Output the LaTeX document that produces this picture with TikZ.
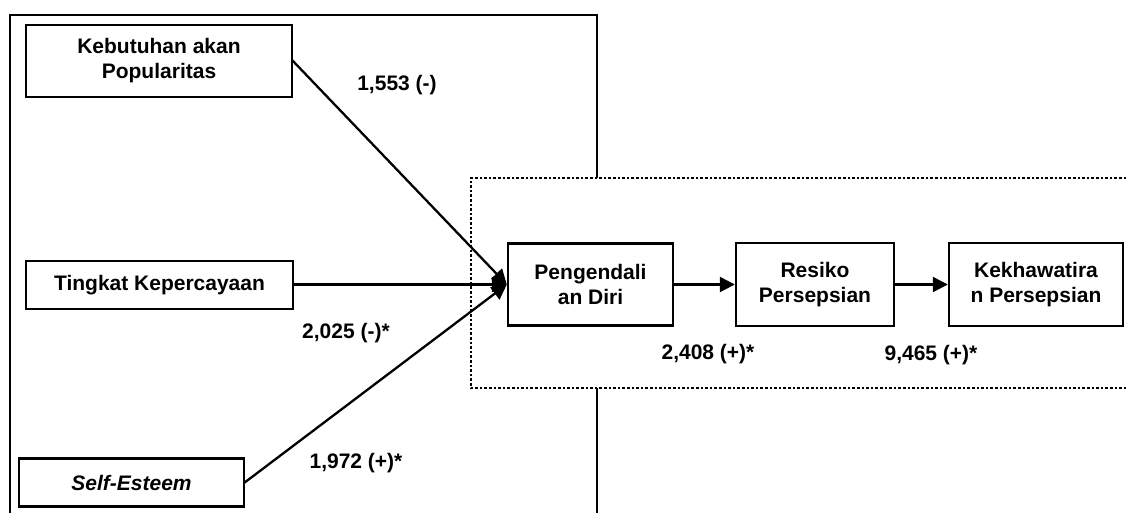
\documentclass[tikz,border=0pt]{standalone}
\usepackage{fontspec}
\setmainfont{Liberation Sans}
\usetikzlibrary{arrows.meta}
\begin{document}
\begin{tikzpicture}[x=1pt,y=-1pt,
  box/.style={draw,line width=2.4pt,align=center,inner sep=0pt,font=\fontsize{21}{25}\selectfont\bfseries},
  lbl/.style={font=\fontsize{21}{24}\selectfont\bfseries,inner sep=0pt},
  conn/.style={line width=2.3pt,-{Triangle[length=15pt,width=15pt]}}]
\useasboundingbox (0,0) rectangle (1128,513);
\begin{scope}
\clip (0,0) rectangle (1128,513);
\draw[line width=2.4pt] (10,540) -- (10,15) -- (597,15) -- (597,540);
\draw[line width=2.6pt,dash pattern=on 2.6pt off 2pt,fill=white] (1140,178) -- (471,178) -- (471,388) -- (1140,388);
\end{scope}
\node[box,minimum width=266pt,minimum height=72pt] (kp) at (159,61) {Kebutuhan akan\\Popularitas};
\node[box,minimum width=267pt,minimum height=48pt] (tk) at (159.5,285) {Tingkat Kepercayaan};
\node[box,minimum width=225pt,minimum height=48pt] (se) at (131.5,482.5) {\itshape Self-Esteem};
\node[box,minimum width=165pt,minimum height=82pt] (pd) at (590.5,284.5) {Pengendali\\an Diri};
\node[box,minimum width=158pt,minimum height=83pt] (rp) at (815,284.5) {Resiko\\Persepsian};
\node[box,minimum width=174pt,minimum height=83pt] (kh) at (1036,284.5) {Kekhawatira\\n Persepsian};
\coordinate (kpo) at (292,60);
\coordinate (seo) at (244,483);
\draw[conn] (kpo) -- (pd.west);
\draw[conn] (tk.east |- pd.west) -- (pd.west);
\draw[conn] (seo) -- (pd.west);
\draw[conn] (pd.east) -- (rp.west);
\draw[conn] (rp.east) -- (kh.west);
\node[lbl] (l1) at (397,85) {1,553 (-)};
\node[lbl] (l2) at (346,333) {2,025 (-)*};
\node[lbl] (l3) at (356,463) {1,972 (+)*};
\node[lbl] (l4) at (708,354) {2,408 (+)*};
\node[lbl] (l5) at (931,355) {9,465 (+)*};
\end{tikzpicture}
\end{document}
